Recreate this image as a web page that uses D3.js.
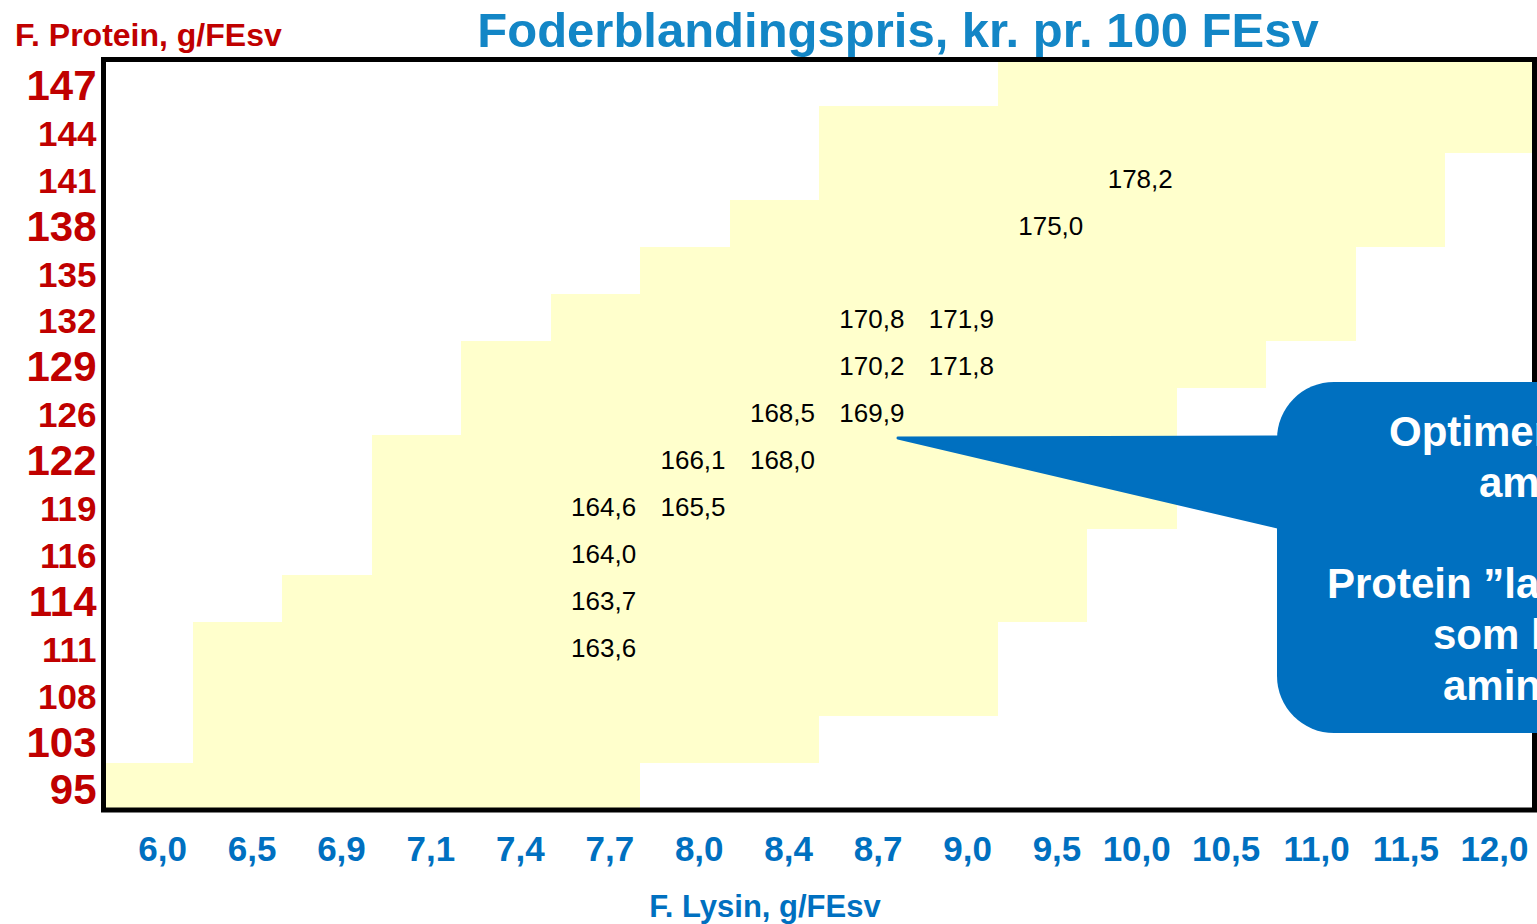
<!DOCTYPE html>
<html>
<head>
<meta charset="utf-8">
<script src="https://cdn.jsdelivr.net/npm/d3@7"></script>
<style>
  body { margin: 0; background: #fff; overflow: hidden; }
  svg { display: block; font-family: "Liberation Sans", Arial, sans-serif; }
</style>
</head>
<body>
<svg width="1537" height="924"></svg>
<script>
// lysin levels (columns) and protein levels (rows)
const lysin = ["6,0","6,5","6,9","7,1","7,4","7,7","8,0","8,4","8,7","9,0","9,5","10,0","10,5","11,0","11,5","12,0"];
const protein = ["147","144","141","138","135","132","129","126","122","119","116","114","111","108","103","95"];

// feasible lysin range for each protein row (first and last lysin level)
const feasibleFrom = ["9,5","8,7","8,7","8,4","8,0","7,7","7,4","7,4","7,1","7,1","7,1","6,9","6,5","6,5","6,5","6,0"];
const feasibleTo   = ["12,0","12,0","11,5","11,5","11,0","11,0","10,5","10,0","10,0","10,0","9,5","9,5","9,0","9,0","8,4","7,7"];

// feed price, kr. per 100 FEsv
const priceProtein = ["141","138","132","132","129","129","126","126","122","122","119","119","116","114","111"];
const priceLysin   = ["10,0","9,5","8,7","9,0","8,7","9,0","8,4","8,7","8,0","8,4","7,7","8,0","7,7","7,7","7,7"];
const priceValue   = ["178,2","175,0","170,8","171,9","170,2","171,8","168,5","169,9","166,1","168,0","164,6","165,5","164,0","163,7","163,6"];

const calloutLines = ["Optimeret på", "aminosyrer", "", "Protein \u201dlades fri\u201d", "som laveste", "aminosyre"];

const svg = d3.select("svg");

const x = d3.scaleBand().domain(lysin).range([103.5, 1534.5]);
const y = d3.scaleBand().domain(protein).range([59.5, 810]);

// yellow feasible area
svg.append("g")
  .selectAll("rect")
  .data(protein)
  .enter().append("rect")
    .attr("x", (d, i) => x(feasibleFrom[i]))
    .attr("y", d => y(d))
    .attr("width", (d, i) => x(feasibleTo[i]) + x.bandwidth() - x(feasibleFrom[i]))
    .attr("height", y.bandwidth())
    .attr("fill", "#FFFFCC")
    .attr("shape-rendering", "crispEdges");

// price values
svg.append("g")
  .selectAll("text")
  .data(priceValue)
  .enter().append("text")
    .attr("x", (d, i) => x(priceLysin[i]) + x.bandwidth() - 4)
    .attr("y", (d, i) => y(priceProtein[i]) + y.bandwidth() / 2 + 11)
    .attr("text-anchor", "end")
    .attr("font-size", 26)
    .attr("fill", "#000")
    .text(d => d);

// frame
svg.append("rect")
  .attr("x", 103.5).attr("y", 59.5)
  .attr("width", 1431).attr("height", 750.5)
  .attr("fill", "none")
  .attr("stroke", "#000")
  .attr("stroke-width", 5);

// protein axis
const bigLabels = new Set(["147","138","129","122","114","103","95"]);
const yAxis = svg.append("g")
  .attr("transform", "translate(103.5,0)")
  .call(d3.axisLeft(y).tickSize(0).tickPadding(7));
yAxis.select(".domain").remove();
yAxis.selectAll("text")
  .attr("font-family", "inherit")
  .attr("font-weight", "bold")
  .attr("fill", "#C00000")
  .attr("font-size", d => bigLabels.has(d) ? 42 : 35)
  .attr("dy", null)
  .attr("y", d => bigLabels.has(d) ? 17 : 16);

// lysin axis
const xAxis = svg.append("g")
  .attr("transform", "translate(0,810)")
  .call(d3.axisBottom(x).tickSize(0));
xAxis.select(".domain").remove();
xAxis.selectAll("text")
  .attr("font-family", "inherit")
  .attr("font-weight", "bold")
  .attr("font-size", 35)
  .attr("fill", "#0070C0")
  .attr("text-anchor", "end")
  .attr("x", x.bandwidth() / 2 - 6)
  .attr("dy", null)
  .attr("y", 51);

// titles
svg.append("text")
  .attr("x", 898).attr("y", 47)
  .attr("text-anchor", "middle")
  .attr("font-size", 49).attr("font-weight", "bold")
  .attr("fill", "#1386C6")
  .text("Foderblandingspris, kr. pr. 100 FEsv");

svg.append("text")
  .attr("x", 15).attr("y", 46)
  .attr("font-size", 32).attr("font-weight", "bold")
  .attr("fill", "#C00000")
  .text("F. Protein, g/FEsv");

svg.append("text")
  .attr("x", 765).attr("y", 917)
  .attr("text-anchor", "middle")
  .attr("font-size", 31).attr("font-weight", "bold")
  .attr("fill", "#0070C0")
  .text("F. Lysin, g/FEsv");

// callout
const callout = svg.append("g");
callout.append("path")
  .attr("d", "M1290,437 L898,438 L1290,530 Z")
  .attr("fill", "#0070C0")
  .attr("stroke", "#0070C0")
  .attr("stroke-width", 3)
  .attr("stroke-linejoin", "round");
callout.append("rect")
  .attr("x", 1277).attr("y", 382)
  .attr("width", 700).attr("height", 351)
  .attr("rx", 57)
  .attr("fill", "#0070C0");

const lineStart = [1389, 1479, 0, 1327, 1433, 1443];
callout.selectAll("text.line")
  .data(calloutLines)
  .enter().append("text")
    .attr("class", "line")
    .attr("x", (d, i) => lineStart[i])
    .attr("y", (d, i) => 446 + i * 50.8)
    .attr("font-size", 42).attr("font-weight", "bold")
    .attr("fill", "#fff")
    .text(d => d);
</script>
</body>
</html>
